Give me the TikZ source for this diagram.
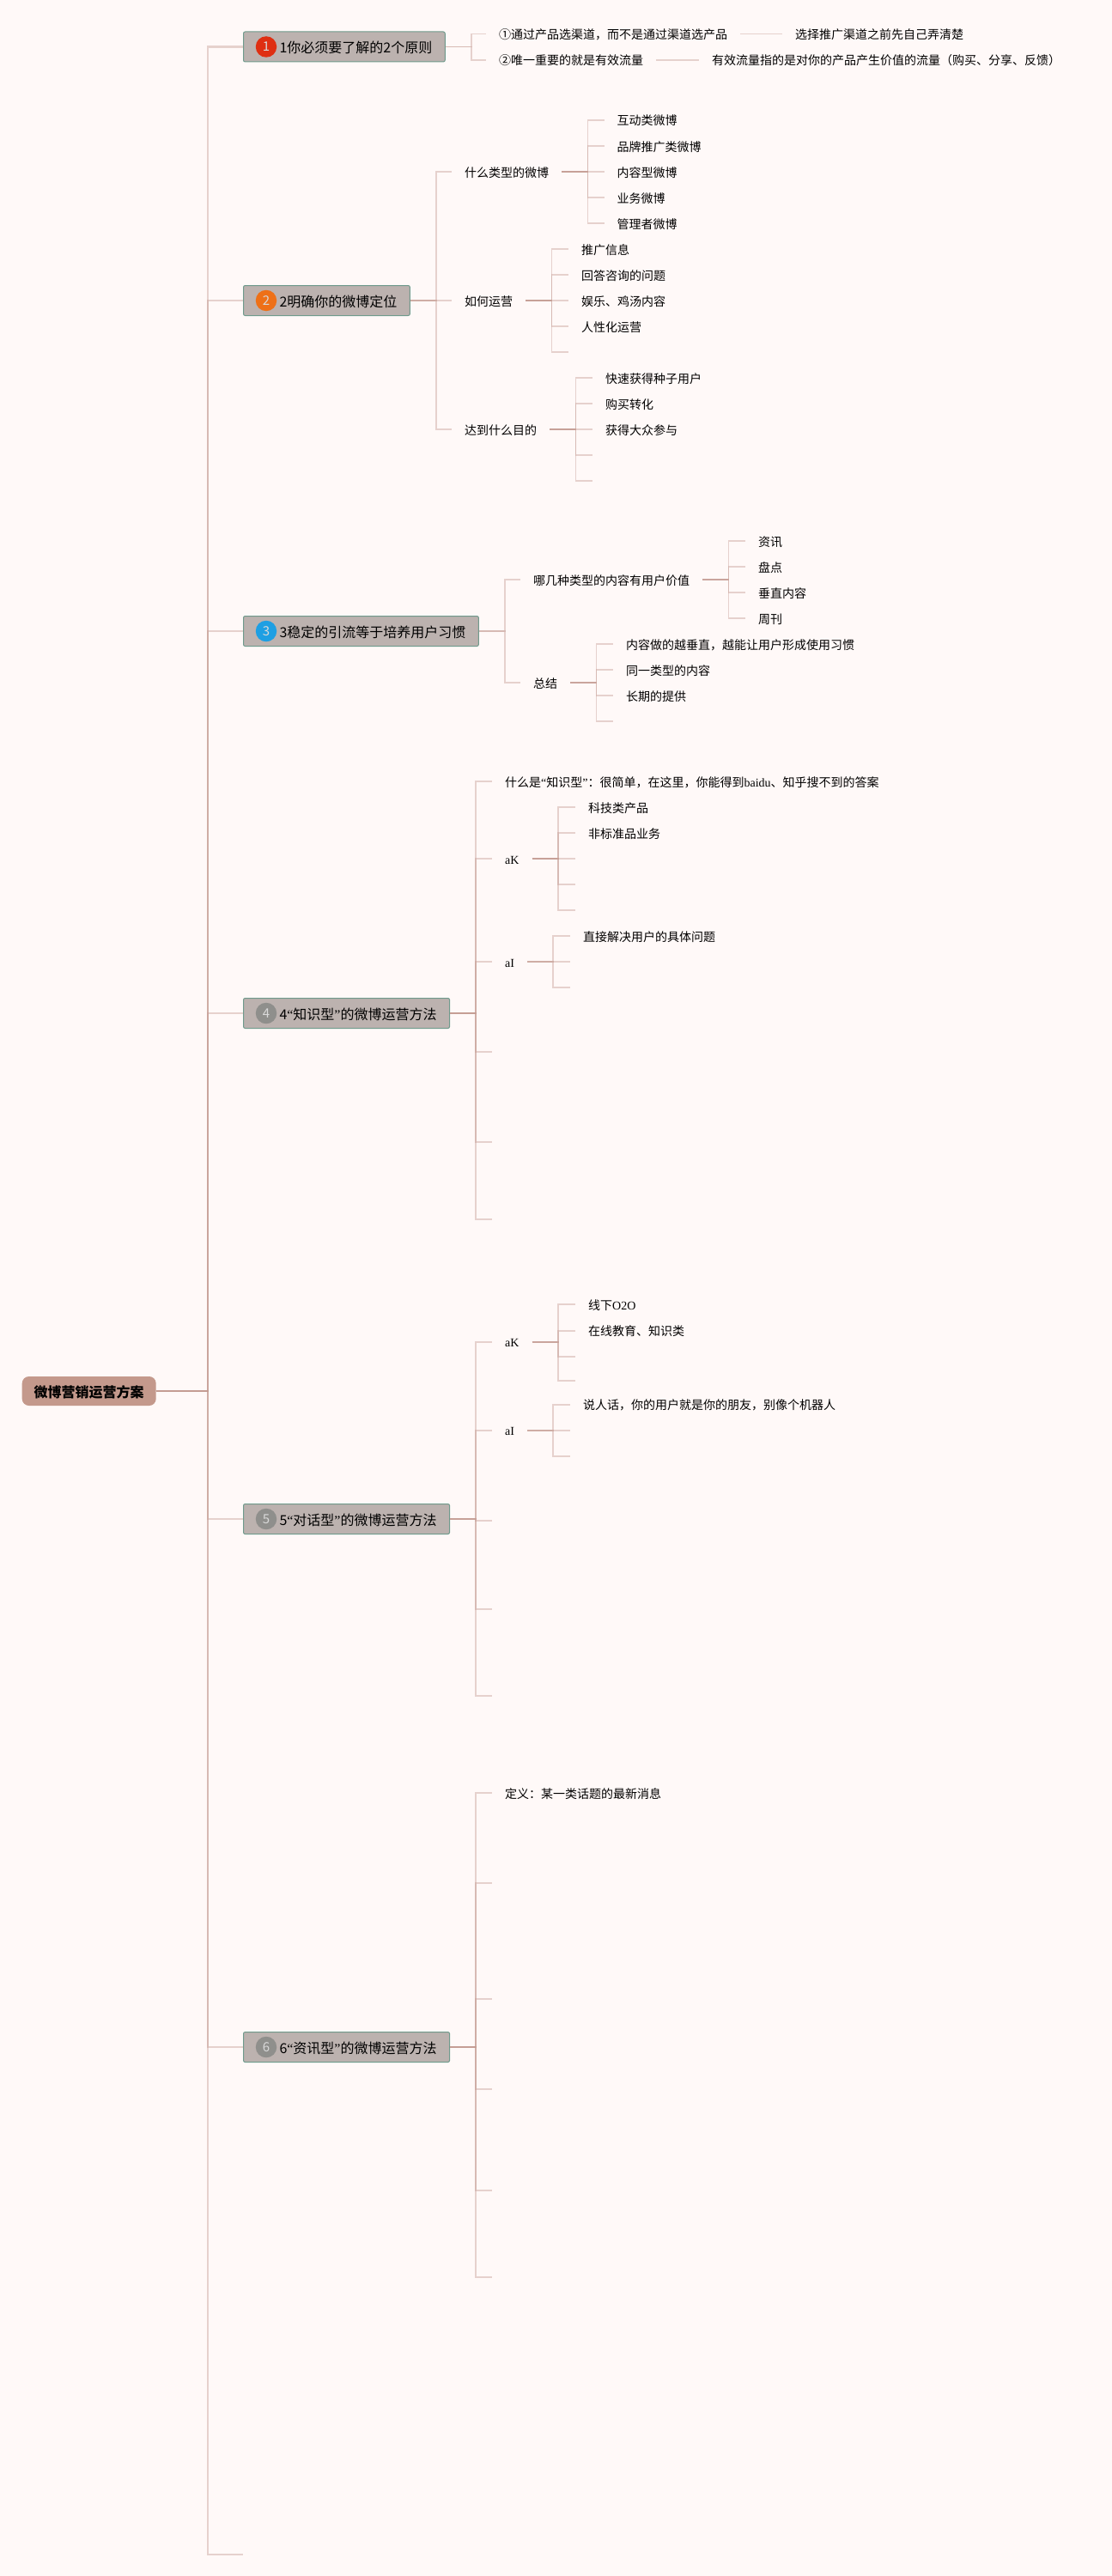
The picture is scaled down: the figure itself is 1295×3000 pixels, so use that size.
\documentclass[tikz,border=0pt]{standalone}
\usepackage{fontspec}
\setmainfont{Noto Sans CJK SC}
\newfontfamily\lat{Liberation Serif}
\usetikzlibrary{positioning}
\definecolor{bgc}{HTML}{FFF9F8}
\definecolor{linkc}{HTML}{C49C92}
\definecolor{boxc}{HTML}{BCB2AF}
\definecolor{boxline}{HTML}{6F9A8C}
\definecolor{rootc}{HTML}{C4998C}
\definecolor{greyc}{HTML}{8F8F8C}
\definecolor{redc}{HTML}{DF2F12}
\definecolor{orangec}{HTML}{EE7017}
\definecolor{bluec}{HTML}{1E9FE3}
\tikzset{
link/.style={draw=linkc,draw opacity=.42,line width=1.8pt},
rootlink/.style={draw=linkc,draw opacity=.42,line width=2.2pt},
topic/.style={anchor=west,inner xsep=15pt,inner ysep=0pt,text height=13pt,text depth=1pt,font=\fontsize{14}{17}\selectfont},
branch/.style={anchor=west,fill=boxc,draw=boxline,line width=1pt,rounded corners=2pt,inner xsep=15pt,inner ysep=0pt,minimum height=35pt,text height=15pt,text depth=0pt,font=\fontsize{16}{19}\selectfont},
badge/.style={circle,inner sep=0pt,minimum size=24.5pt,text=white!85!black,font=\fontsize{15}{18}\selectfont},
rootbox/.style={anchor=west,fill=rootc,rounded corners=8pt,inner xsep=14pt,inner ysep=0pt,minimum height=34pt,text height=15pt,text depth=0pt,font=\fontsize{16}{19}\selectfont\bfseries}
}
\begin{document}
\begin{tikzpicture}[x=1pt,y=-1pt]
\fill[bgc] (0,0) rectangle (1295,3000);
% root and branches
\node[rootbox] (root) at (25.5,1620) {微博营销运营方案};
\node[branch] (b1) at (283,54.5) {\hspace*{27pt}1你必须要了解的2个原则};
\node[branch] (b2) at (283,350) {\hspace*{27pt}2明确你的微博定位};
\node[branch] (b3) at (283,735) {\hspace*{27pt}3稳定的引流等于培养用户习惯};
\node[branch] (b4) at (283,1180) {\hspace*{27pt}4{\lat “}知识型{\lat ”}的微博运营方法};
\node[branch] (b5) at (283,1769) {\hspace*{27pt}5{\lat “}对话型{\lat ”}的微博运营方法};
\node[branch] (b6) at (283,2384) {\hspace*{27pt}6{\lat “}资讯型{\lat ”}的微博运营方法};
\coordinate (b7) at (283,2975);
\node[badge,fill=redc] (m1) at ([xshift=27pt]b1.west) {1};
\node[badge,fill=orangec] (m2) at ([xshift=27pt]b2.west) {2};
\node[badge,fill=bluec] (m3) at ([xshift=27pt]b3.west) {3};
\node[badge,fill=greyc] (m4) at ([xshift=27pt]b4.west) {4};
\node[badge,fill=greyc] (m5) at ([xshift=27pt]b5.west) {5};
\node[badge,fill=greyc] (m6) at ([xshift=27pt]b6.west) {6};
% branch 1
\node[topic] (c11) at (566,39.5) {①通过产品选渠道，而不是通过渠道选产品};
\node[topic] (c12) at (566,70) {②唯一重要的就是有效流量};
\node[topic] (d111) at (911,39.5) {选择推广渠道之前先自己弄清楚};
\node[topic] (d121) at (814,70) {有效流量指的是对你的产品产生价值的流量（购买、分享、反馈）};
% branch 2
\node[topic] (c21) at (526,200) {什么类型的微博};
\node[topic] (c22) at (526,350) {如何运营};
\node[topic] (c23) at (526,500) {达到什么目的};
\node[topic] (d211) at (703.5,140) {互动类微博};
\node[topic] (d212) at (703.5,170) {品牌推广类微博};
\node[topic] (d213) at (703.5,200) {内容型微博};
\node[topic] (d214) at (703.5,230) {业务微博};
\node[topic] (d215) at (703.5,260) {管理者微博};
\node[topic] (d221) at (662,290) {推广信息};
\node[topic] (d222) at (662,320) {回答咨询的问题};
\node[topic] (d223) at (662,350) {娱乐、鸡汤内容};
\node[topic] (d224) at (662,380) {人性化运营};
\coordinate (d225) at (662,410);
\node[topic] (d231) at (690,440) {快速获得种子用户};
\node[topic] (d232) at (690,470) {购买转化};
\node[topic] (d233) at (690,500) {获得大众参与};
\coordinate (d234) at (690,530);
\coordinate (d235) at (690,560);
% branch 3
\node[topic] (c31) at (606,675) {哪几种类型的内容有用户价值};
\node[topic] (c32) at (606,795) {总结};
\node[topic] (d311) at (868,630) {资讯};
\node[topic] (d312) at (868,660) {盘点};
\node[topic] (d313) at (868,690) {垂直内容};
\node[topic] (d314) at (868,720) {周刊};
\node[topic] (d321) at (714,750) {内容做的越垂直，越能让用户形成使用习惯};
\node[topic] (d322) at (714,780) {同一类型的内容};
\node[topic] (d323) at (714,810) {长期的提供};
\coordinate (d324) at (714,840);
% branch 4
\node[topic] (c41) at (573,910) {什么是{\lat “}知识型{\lat ”}：很简单，在这里，你能得到{\lat baidu}、知乎搜不到的答案};
\node[topic] (c42) at (573,1000) {\lat aK};
\node[topic] (c43) at (573,1120) {\lat aI};
\coordinate (c44) at (573,1225);
\coordinate (c45) at (573,1330);
\coordinate (c46) at (573,1420);
\node[topic] (d421) at (670,940) {科技类产品};
\node[topic] (d422) at (670,970) {非标准品业务};
\coordinate (d423) at (670,1000);
\coordinate (d424) at (670,1030);
\coordinate (d425) at (670,1060);
\node[topic] (d431) at (664,1090) {直接解决用户的具体问题};
\coordinate (d432) at (664,1120);
\coordinate (d433) at (664,1150);
% branch 5
\node[topic] (c51) at (573,1562.7) {\lat aK};
\node[topic] (c52) at (573,1665.7) {\lat aI};
\coordinate (c53) at (573,1770.7);
\coordinate (c54) at (573,1874);
\coordinate (c55) at (573,1975);
\node[topic] (d511) at (670,1519.3) {线下{\lat O2O}};
\node[topic] (d512) at (670,1549.7) {在线教育、知识类};
\coordinate (d513) at (670,1579.7);
\coordinate (d514) at (670,1607.7);
\node[topic] (d521) at (664,1635.7) {说人话，你的用户就是你的朋友，别像个机器人};
\coordinate (d522) at (664,1665.7);
\coordinate (d523) at (664,1696);
% branch 6
\node[topic] (c61) at (573,2088.3) {定义：某一类话题的最新消息};
\coordinate (c62) at (573,2192.7);
\coordinate (c63) at (573,2327.7);
\coordinate (c64) at (573,2433);
\coordinate (c65) at (573,2550.7);
\coordinate (c66) at (573,2652);
% connectors
\draw[rootlink] (root.east) -- ++(60,0) |- (b1.west);
\draw[rootlink] (root.east) -- ++(60,0) |- (b2.west);
\draw[rootlink] (root.east) -- ++(60,0) |- (b3.west);
\draw[rootlink] (root.east) -- ++(60,0) |- (b4.west);
\draw[rootlink] (root.east) -- ++(60,0) |- (b5.west);
\draw[rootlink] (root.east) -- ++(60,0) |- (b6.west);
\draw[rootlink] (root.east) -- ++(60,0) |- (b7);
\draw[link] (b1.east) -- ++(30,0) |- (c11.west);
\draw[link] (b1.east) -- ++(30,0) |- (c12.west);
\draw[link] (c11.east) -- (d111.west);
\draw[link] (c12.east) -- (d121.west);
\draw[link] (b2.east) -- ++(30,0) |- (c21.west);
\draw[link] (b2.east) -- ++(30,0) |- (c22.west);
\draw[link] (b2.east) -- ++(30,0) |- (c23.west);
\draw[link] (c21.east) -- ++(30,0) |- (d211.west);
\draw[link] (c21.east) -- ++(30,0) |- (d212.west);
\draw[link] (c21.east) -- ++(30,0) |- (d213.west);
\draw[link] (c21.east) -- ++(30,0) |- (d214.west);
\draw[link] (c21.east) -- ++(30,0) |- (d215.west);
\draw[link] (c22.east) -- ++(30,0) |- (d221.west);
\draw[link] (c22.east) -- ++(30,0) |- (d222.west);
\draw[link] (c22.east) -- ++(30,0) |- (d223.west);
\draw[link] (c22.east) -- ++(30,0) |- (d224.west);
\draw[link] (c22.east) -- ++(30,0) |- (d225);
\draw[link] (c23.east) -- ++(30,0) |- (d231.west);
\draw[link] (c23.east) -- ++(30,0) |- (d232.west);
\draw[link] (c23.east) -- ++(30,0) |- (d233.west);
\draw[link] (c23.east) -- ++(30,0) |- (d234);
\draw[link] (c23.east) -- ++(30,0) |- (d235);
\draw[link] (b3.east) -- ++(30,0) |- (c31.west);
\draw[link] (b3.east) -- ++(30,0) |- (c32.west);
\draw[link] (c31.east) -- ++(30,0) |- (d311.west);
\draw[link] (c31.east) -- ++(30,0) |- (d312.west);
\draw[link] (c31.east) -- ++(30,0) |- (d313.west);
\draw[link] (c31.east) -- ++(30,0) |- (d314.west);
\draw[link] (c32.east) -- ++(30,0) |- (d321.west);
\draw[link] (c32.east) -- ++(30,0) |- (d322.west);
\draw[link] (c32.east) -- ++(30,0) |- (d323.west);
\draw[link] (c32.east) -- ++(30,0) |- (d324);
\draw[link] (b4.east) -- ++(30,0) |- (c41.west);
\draw[link] (b4.east) -- ++(30,0) |- (c42.west);
\draw[link] (b4.east) -- ++(30,0) |- (c43.west);
\draw[link] (b4.east) -- ++(30,0) |- (c44);
\draw[link] (b4.east) -- ++(30,0) |- (c45);
\draw[link] (b4.east) -- ++(30,0) |- (c46);
\draw[link] (c42.east) -- ++(30,0) |- (d421.west);
\draw[link] (c42.east) -- ++(30,0) |- (d422.west);
\draw[link] (c42.east) -- ++(30,0) |- (d423);
\draw[link] (c42.east) -- ++(30,0) |- (d424);
\draw[link] (c42.east) -- ++(30,0) |- (d425);
\draw[link] (c43.east) -- ++(30,0) |- (d431.west);
\draw[link] (c43.east) -- ++(30,0) |- (d432);
\draw[link] (c43.east) -- ++(30,0) |- (d433);
\draw[link] (b5.east) -- ++(30,0) |- (c51.west);
\draw[link] (b5.east) -- ++(30,0) |- (c52.west);
\draw[link] (b5.east) -- ++(30,0) |- (c53);
\draw[link] (b5.east) -- ++(30,0) |- (c54);
\draw[link] (b5.east) -- ++(30,0) |- (c55);
\draw[link] (c51.east) -- ++(30,0) |- (d511.west);
\draw[link] (c51.east) -- ++(30,0) |- (d512.west);
\draw[link] (c51.east) -- ++(30,0) |- (d513);
\draw[link] (c51.east) -- ++(30,0) |- (d514);
\draw[link] (c52.east) -- ++(30,0) |- (d521.west);
\draw[link] (c52.east) -- ++(30,0) |- (d522);
\draw[link] (c52.east) -- ++(30,0) |- (d523);
\draw[link] (b6.east) -- ++(30,0) |- (c61.west);
\draw[link] (b6.east) -- ++(30,0) |- (c62);
\draw[link] (b6.east) -- ++(30,0) |- (c63);
\draw[link] (b6.east) -- ++(30,0) |- (c64);
\draw[link] (b6.east) -- ++(30,0) |- (c65);
\draw[link] (b6.east) -- ++(30,0) |- (c66);
\end{tikzpicture}
\end{document}
